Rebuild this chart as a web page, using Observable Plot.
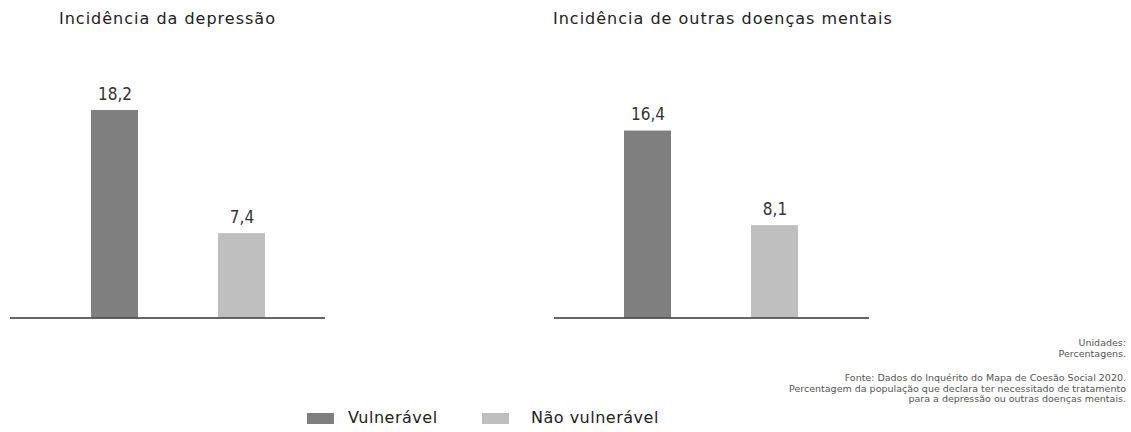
<!DOCTYPE html>
<html>
<head>
<meta charset="utf-8">
<script src="https://cdn.jsdelivr.net/npm/d3@7"></script>
<script src="https://cdn.jsdelivr.net/npm/@observablehq/plot@0.6"></script>
<style>
  html, body { margin: 0; padding: 0; background: #fff; }
  #wrap { position: relative; width: 1131px; height: 432px; overflow: hidden; font-family: "DejaVu Sans", Verdana, sans-serif; }
  .title { position: absolute; top: 9px; font-size: 16px; letter-spacing: 1px; color: #222; white-space: nowrap; }
  .panel { position: absolute; top: 0; }
  .note { position: absolute; right: 5px; text-align: right; font-size: 9.5px; color: #555; white-space: nowrap; }
  .sw { position: absolute; top: 413px; width: 27px; height: 11px; }
  .lg { position: absolute; top: 407px; font-size: 16px; letter-spacing: 0.5px; color: #222; white-space: nowrap; line-height: 22px; }
</style>
</head>
<body>
<div id="wrap"></div>
<script>
// ---- data ----
const categories = ["Vulnerável", "Não vulnerável"];
const depressao = [18.2, 7.4];
const outrasDoencas = [16.4, 8.1];
const panelTitles = ["Incidência da depressão", "Incidência de outras doenças mentais"];
const unitsLines = ["Unidades:", "Percentagens."];
const sourceLines = [
  "Fonte: Dados do Inquérito do Mapa de Coesão Social 2020.",
  "Percentagem da população que declara ter necessitado de tratamento",
  "para a depressão ou outras doenças mentais."
];
const colors = ["#7f7f7f", "#bfbfbf"];

const fmt = v => v.toFixed(1).replace(".", ",");
const wrap = document.getElementById("wrap");

function panel(values, left, xRange, title, titleLeft) {
  const data = categories.map((c, i) => ({grupo: c, valor: values[i]}));
  const chart = Plot.plot({
    width: 340,
    height: 330,
    marginLeft: 10,
    marginRight: 15,
    marginTop: 0,
    marginBottom: 12,
    x: {domain: categories, range: xRange, paddingInner: 0.63, paddingOuter: 0.5, align: 0.5, axis: null},
    y: {domain: [0, 20], range: [317.5, 89.5], axis: null},
    color: {domain: categories, range: colors},
    marks: [
      Plot.barY(data, {x: "grupo", y: "valor", fill: "grupo"}),
      Plot.text(data, {x: "grupo", y: "valor", text: d => fmt(d.valor), dy: -11, lineAnchor: "bottom",
        fontSize: 17, fill: "#333", fontFamily: "'DejaVu Sans Condensed', 'DejaVu Sans', sans-serif"}),
      Plot.ruleY([0], {stroke: "#333", strokeWidth: 1.5})
    ]
  });
  const div = document.createElement("div");
  div.className = "panel";
  div.style.left = left + "px";
  div.appendChild(chart);
  wrap.appendChild(div);
  const t = document.createElement("div");
  t.className = "title";
  t.style.left = titleLeft + "px";
  t.textContent = title;
  wrap.appendChild(t);
}

panel(depressao, 0, [27.25, 329.5], panelTitles[0], 59);
panel(outrasDoencas, 544, [16.25, 318.5], panelTitles[1], 553);

// notes
const n1 = document.createElement("div");
n1.className = "note";
n1.style.top = "337px";
n1.style.lineHeight = "11px";
n1.innerHTML = unitsLines.join("<br>");
wrap.appendChild(n1);
const n2 = document.createElement("div");
n2.className = "note";
n2.style.top = "373px";
n2.style.lineHeight = "10.5px";
n2.innerHTML = sourceLines.join("<br>");
wrap.appendChild(n2);

// legend
const swLeft = [307, 482];
const lgLeft = [348, 531];
categories.forEach((c, i) => {
  const s = document.createElement("div");
  s.className = "sw";
  s.style.left = swLeft[i] + "px";
  s.style.background = colors[i];
  wrap.appendChild(s);
  const l = document.createElement("div");
  l.className = "lg";
  l.style.left = lgLeft[i] + "px";
  l.textContent = c;
  wrap.appendChild(l);
});
</script>
</body>
</html>
